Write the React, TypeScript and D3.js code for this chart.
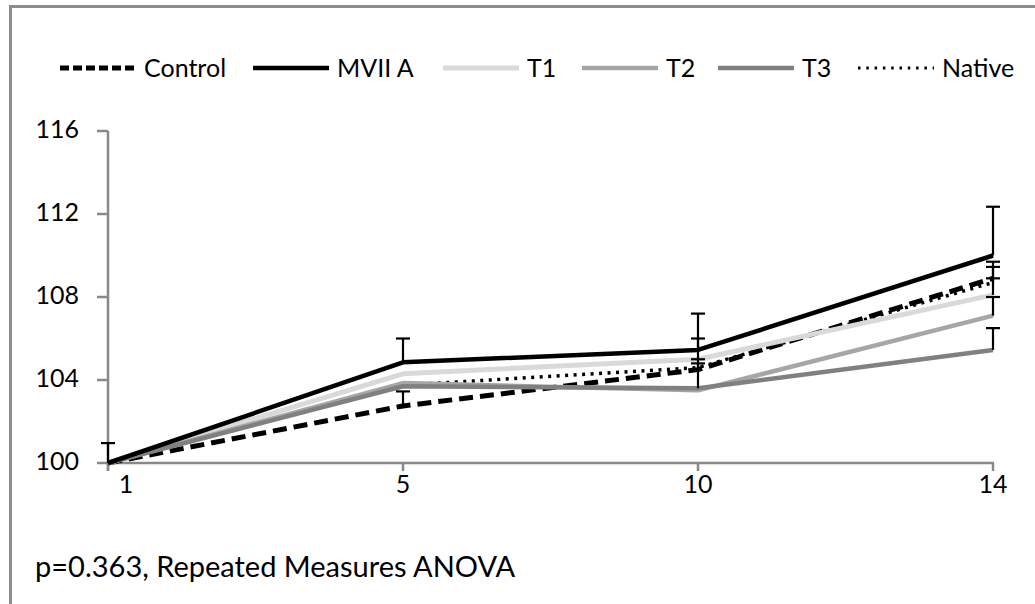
import React from 'react';
import * as d3 from 'd3';

const categories = ['1', '5', '10', '14'];
const seriesNames = ['Control', 'MVII A', 'T1', 'T2', 'T3', 'Native'];
const control = [100, 102.75, 104.5, 108.9];
const mvii = [100, 104.85, 105.45, 110.0];
const t1 = [100, 104.3, 105.0, 108.1];
const t2 = [100, 103.85, 103.5, 107.1];
const t3 = [100, 103.7, 103.6, 105.45];
const native = [100, 103.75, 104.6, 108.7];
const controlErr = [0.96, 0.7, 0.5, 0.55];
const mviiErr = [0, 1.15, 1.75, 2.35];
const t1Err = [0, 0, 1.0, 0.8];
const t2Err = [0, 0, 0, 0.9];
const t3Err = [0, 0, 1.2, 1.05];
const nativeErr = [0, 0, 0, 1.0];
const yTicks = [100, 104, 108, 112, 116];
const note = 'p=0.363, Repeated Measures ANOVA';

const FONT = 'Lato, "Liberation Sans", sans-serif';

export default function App() {
  const W = 1035, H = 604;
  const x = d3.scalePoint<string>().domain(categories).range([108, 993]);
  const y = d3.scaleLinear().domain([100, 116]).range([463, 131]);

  const seriesValues = [control, mvii, t1, t2, t3, native];
  const seriesErr = [controlErr, mviiErr, t1Err, t2Err, t3Err, nativeErr];
  const styles = [
    { stroke: '#000', width: 5, dash: '14 7' },
    { stroke: '#000', width: 4.5, dash: null },
    { stroke: '#d9d9d9', width: 5, dash: null },
    { stroke: '#a6a6a6', width: 4.5, dash: null },
    { stroke: '#808080', width: 4.5, dash: null },
    { stroke: '#000', width: 3.5, dash: '3 5.5' },
  ];
  const drawOrder = [0, 5, 2, 3, 4, 1];

  const line = d3.line<number>()
    .x((_, i) => x(categories[i]) as number)
    .y((v) => y(v));

  const legendX = [60, 253, 443, 582, 718, 858];

  return (
    <div style={{ position: 'absolute', left: 0, top: 0 }}>
      <svg width={W} height={H} style={{ display: 'block', background: '#fff' }}>
        {/* border */}
        <line x1={10.5} y1={6.5} x2={W} y2={6.5} stroke="#8c8c8c" strokeWidth={3} />
        <line x1={10.5} y1={5} x2={10.5} y2={H} stroke="#8c8c8c" strokeWidth={3} />

        {/* legend */}
        {seriesNames.map((name, i) => {
          const s = styles[i];
          const lx = legendX[i];
          return (
            <g key={name}>
              <line x1={lx} x2={lx + 76} y1={68} y2={68} stroke={s.stroke} strokeWidth={i === 5 ? 3 : s.width}
                strokeDasharray={s.dash ? (i === 0 ? '9 4' : '2.5 5.8') : undefined} />
              <text x={lx + 84} y={77} fontFamily={FONT} fontSize={25} fill="#000">{name}</text>
            </g>
          );
        })}

        {/* y axis */}
        <line x1={108} x2={108} y1={y(116)} y2={y(100) + 8} stroke="#898989" strokeWidth={2.5} />
        {yTicks.map((t) => (
          <g key={t}>
            <line x1={97} x2={108} y1={y(t)} y2={y(t)} stroke="#898989" strokeWidth={2.5} />
            <text x={79} y={y(t) + 7} textAnchor="end" fontFamily={FONT} fontSize={25} fill="#000">{t}</text>
          </g>
        ))}

        {/* x axis */}
        <line x1={108} x2={994} y1={y(100)} y2={y(100)} stroke="#898989" strokeWidth={2.5} />
        {categories.map((c, i) => (
          <g key={c}>
            <line x1={x(c)} x2={x(c)} y1={y(100)} y2={y(100) + 8} stroke="#898989" strokeWidth={2.5} />
            <text x={(x(c) as number) + (i === 0 ? 18 : 0)} y={493} textAnchor="middle" fontFamily={FONT} fontSize={25} fill="#000">{c}</text>
          </g>
        ))}

        {/* lines */}
        {drawOrder.map((i) => {
          const s = styles[i];
          return (
            <path key={i} d={line(seriesValues[i]) as string} fill="none" stroke={s.stroke}
              strokeWidth={s.width} strokeDasharray={s.dash || undefined} strokeLinejoin="round" />
          );
        })}

        {/* error bars */}
        {seriesValues.map((vals, i) => (
          <g key={'e' + i}>
            {vals.map((v, j) => {
              const e = seriesErr[i][j];
              if (!e) return null;
              const cx = x(categories[j]) as number;
              return (
                <g key={j}>
                  <line x1={cx} x2={cx} y1={y(v)} y2={y(v + e)} stroke="#000" strokeWidth={2.2} />
                  <line x1={cx - 7} x2={cx + 7} y1={y(v + e)} y2={y(v + e)} stroke="#000" strokeWidth={2.2} />
                </g>
              );
            })}
          </g>
        ))}

        <text x={35} y={577} fontFamily={FONT} fontSize={29} fill="#000">{note}</text>
      </svg>
    </div>
  );
}
